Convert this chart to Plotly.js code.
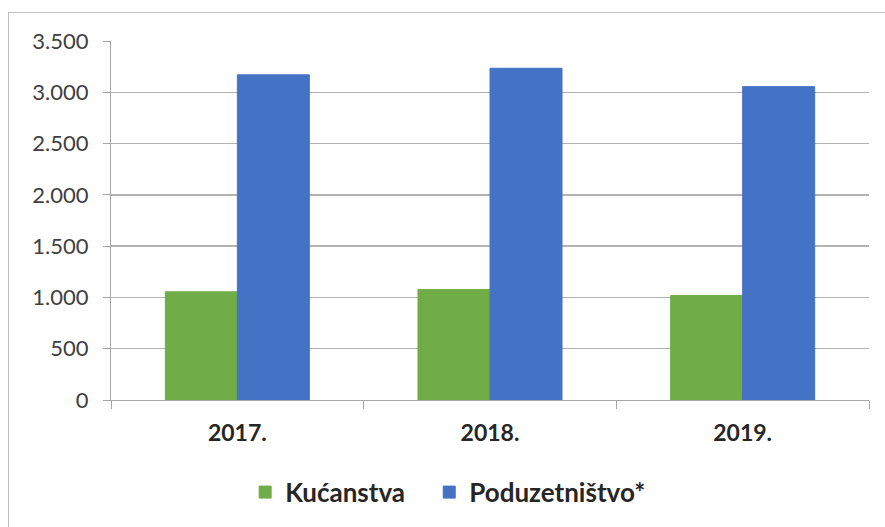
<!DOCTYPE html>
<html><head><meta charset="utf-8">
<script src="https://cdn.plot.ly/plotly-3.0.1.min.js"></script>
<style>
html,body{margin:0;padding:0;background:#fff;}
#wrap{position:relative;width:885px;height:527px;}
#chart{width:885px;height:527px;}
#frame{position:absolute;left:8px;top:12px;width:900px;height:600px;border-left:1.5px solid #bfbfbf;border-top:1.5px solid #bfbfbf;pointer-events:none;}
</style></head>
<body><div id="wrap"><div id="chart"></div><div id="frame"></div></div>
<script>
const categories = ['2017.', '2018.', '2019.'];
const kucanstva = [1055, 1078, 1019];
const poduzetnistvo = [3170, 3234, 3055];
const seriesNames = ['Kućanstva', 'Poduzetništvo*'];
const yTicks = [0, 500, 1000, 1500, 2000, 2500, 3000, 3500];

const font = 'Lato, "Open Sans", "Liberation Sans", sans-serif';
const data = [
  {type:'bar', name:seriesNames[0], x:categories, y:kucanstva, legend:'legend',
   marker:{color:'#70AD47', line:{color:'#70AD47', width:1}}},
  {type:'bar', name:seriesNames[1], x:categories, y:poduzetnistvo, legend:'legend2',
   marker:{color:'#4472C4', line:{color:'#4472C4', width:1}}}
];
const legFont = {size:26, color:'#262626', family:font, weight:'bold'};
const layout = {
  width:885, height:527,
  margin:{l:111, r:16, t:41, b:127, autoexpand:false},
  paper_bgcolor:'rgba(0,0,0,0)', plot_bgcolor:'#fff',
  separators:',.',
  barmode:'group', bargap:0.43, bargroupgap:0,
  font:{family:font, color:'#404040'},
  showlegend:true,
  legend:{orientation:'h', x:0.277, xref:'container', xanchor:'left', y:0.066, yref:'container', yanchor:'middle',
    font:legFont, itemwidth:30},
  legend2:{orientation:'h', x:0.485, xref:'container', xanchor:'left', y:0.066, yref:'container', yanchor:'middle',
    font:legFont, itemwidth:30},
  xaxis:{type:'category', showline:true, linecolor:'#a6a6a6', linewidth:1,
    ticks:'outside', tickson:'boundaries', ticklen:8, tickcolor:'#a6a6a6', ticklabelstandoff:12,
    tickfont:{size:23, color:'#262626', family:font, weight:'bold'}, showgrid:false},
  yaxis:{range:[0,3500], tickvals:yTicks, tickformat:',d', showline:true, linecolor:'#a6a6a6',
    ticks:'outside', ticklen:7, tickcolor:'#a6a6a6', gridcolor:'#b3b3b3', gridwidth:1.5,
    tickfont:{size:22, color:'#404040', family:font}, zeroline:false, ticklabelstandoff:10}
};
Plotly.newPlot('chart', data, layout, {displayModeBar:false, staticPlot:true});
</script></body></html>
